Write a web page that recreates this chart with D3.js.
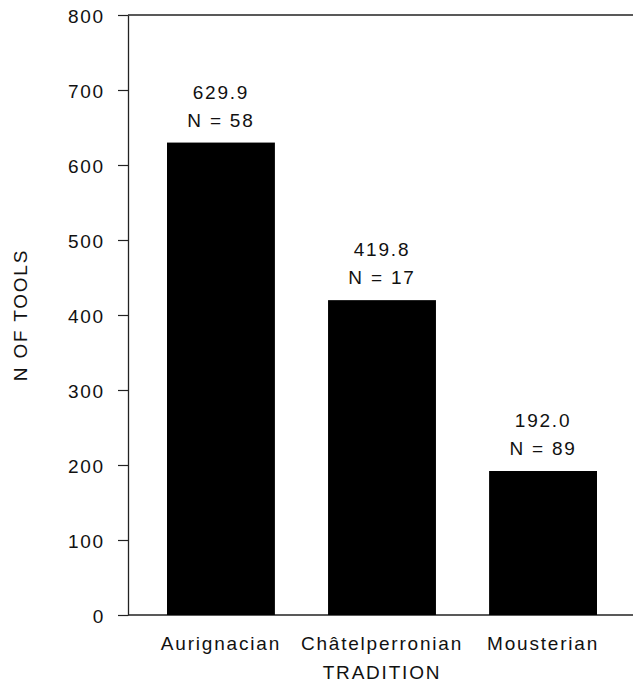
<!DOCTYPE html>
<html>
<head>
<meta charset="utf-8">
<script src="https://cdn.jsdelivr.net/npm/d3@7"></script>
<style>
  html, body { margin: 0; padding: 0; background: #fff; }
  svg text { font-family: "Liberation Sans", Arial, Helvetica, sans-serif; fill: #111; }
</style>
</head>
<body>
<svg id="chart" width="633" height="684"></svg>
<script>
const categories = ["Aurignacian", "Châtelperronian", "Mousterian"];
const values = [629.9, 419.8, 192.0];
const counts = [58, 17, 89];
const valueLabels = ["629.9", "419.8", "192.0"];
const yTicks = [0, 100, 200, 300, 400, 500, 600, 700, 800];
const xTitle = "TRADITION";
const yTitle = "N OF TOOLS";

const W = 633, H = 684;
const plot = { left: 128, right: 633, top: 15, bottom: 615 };

const svg = d3.select("#chart");
const y = d3.scaleLinear().domain([0, 800]).range([plot.bottom, plot.top]);
const x = d3.scaleBand().domain(categories).range([167, 597]).paddingInner(0.33).paddingOuter(0);

const fs = "19px", ls = "1.8px";

// frame lines: top and bottom
svg.append("line").attr("x1", plot.left).attr("x2", plot.right).attr("y1", plot.top).attr("y2", plot.top)
  .attr("stroke", "#222").attr("stroke-width", 1.3);
svg.append("line").attr("x1", plot.left).attr("x2", plot.right).attr("y1", plot.bottom).attr("y2", plot.bottom)
  .attr("stroke", "#222").attr("stroke-width", 1.3);

// y axis
const yAxis = d3.axisLeft(y).tickValues(yTicks).tickSize(10).tickPadding(13).tickSizeOuter(0);
const gy = svg.append("g").attr("transform", `translate(${plot.left},0)`).call(yAxis);
gy.select(".domain").attr("stroke", "#222").attr("stroke-width", 1.3);
gy.selectAll(".tick line").attr("stroke", "#222").attr("stroke-width", 1.2);
gy.selectAll(".tick text").style("font-size", fs).style("letter-spacing", ls).attr("fill", "#111")
  .attr("dy", "0.4em");

// bars
const data = categories.map((c, i) => ({ c, v: values[i], n: counts[i], lab: valueLabels[i] }));
svg.selectAll("rect.bar").data(data).enter().append("rect").attr("class", "bar")
  .attr("x", d => x(d.c)).attr("width", x.bandwidth())
  .attr("y", d => y(d.v)).attr("height", d => y(0) - y(d.v))
  .attr("fill", "#000");

// annotations
svg.selectAll("text.val").data(data).enter().append("text").attr("class", "val")
  .attr("x", d => x(d.c) + x.bandwidth() / 2).attr("y", d => y(d.v) - 44)
  .attr("text-anchor", "middle").style("font-size", fs).style("letter-spacing", ls)
  .text(d => d.lab);
svg.selectAll("text.n").data(data).enter().append("text").attr("class", "n")
  .attr("x", d => x(d.c) + x.bandwidth() / 2).attr("y", d => y(d.v) - 16)
  .attr("text-anchor", "middle").style("font-size", fs).style("letter-spacing", ls)
  .text(d => "N = " + d.n);

// category labels
svg.selectAll("text.cat").data(categories).enter().append("text").attr("class", "cat")
  .attr("x", d => x(d) + x.bandwidth() / 2).attr("y", 650)
  .attr("text-anchor", "middle").style("font-size", fs).style("letter-spacing", ls)
  .text(d => d);

// x title
svg.append("text").attr("x", (x.range()[0] + x.range()[1]) / 2).attr("y", 679)
  .attr("text-anchor", "middle").style("font-size", fs).style("letter-spacing", ls)
  .text(xTitle);

// y title
svg.append("text").attr("transform", `translate(27,${(plot.top + plot.bottom) / 2 + 0}) rotate(-90)`)
  .attr("text-anchor", "middle").style("font-size", fs).style("letter-spacing", ls)
  .text(yTitle);
</script>
</body>
</html>
